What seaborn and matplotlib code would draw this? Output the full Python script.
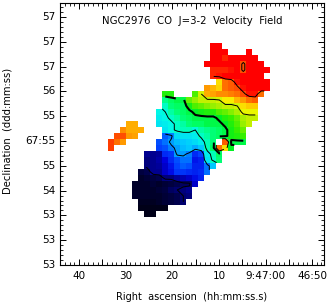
import numpy as np
import pandas as pd
import seaborn as sns
import matplotlib.pyplot as plt
from matplotlib.colors import LinearSegmentedColormap
from matplotlib.ticker import FixedLocator

# velocity map, km/s: first column of each row + values
n = np.nan
row_first = {
    7: 25, 8: 25, 9: 25, 10: 24, 11: 25, 12: 25, 13: 26, 14: 24, 15: 17, 16: 17, 17: 17,
    18: 16, 19: 16, 20: 16, 21: 17, 22: 17, 23: 16, 24: 16, 25: 14, 26: 14, 27: 14,
    28: 13, 29: 13, 30: 12, 31: 12, 32: 12, 33: 13, 34: 13, 35: 14,
}
row_vel = {
    7: [36, 36],
    8: [36, 36, 36, n, n, n, 36],
    9: [36, 36, 34, 36, 36, 36, 36, 36],
    10: [36, 36, 36, 36, 36, 36, 32, 36, 36, 36],
    11: [34, 34, 34, 35, 36, 32, 36, 36, 36, 36],
    12: [34, 35, 36, 36, 36, 36, 36, 36, 36],
    13: [20, 30, 31, 35, 36, 36, 36, 36, 36],
    14: [27, 24, 21, 30, 31, 32, 35, 36, 36, 36, 36],
    15: [8, 8, n, n, n, 10, 16, 25, 26, 28, 28, 29, 30, 32, 35, 35, 30],
    16: [1, 3, 4, 4, 11, 13, 15, 15, 15, 16, 19, 19, 24, 27, 30, 31],
    17: [-2, 2, 3, 3, 7, 10, 11, 12, 13, 14, 15, 15, 16, 20, 22, 22],
    18: [-4, -3, 0, 2, 3, 4, 6, 7, 8, 8, 10, 11, 12, 14, 17, 17, 17],
    19: [-5, -4, -2, 0, 2, 3, 4, 4, 4, 4, 6, 8, 9, 11, 14, 15, 15],
    20: [-6, -5, -4, -2, 0, 2, 3, 3, 4, 4, 4, 6, 8, 10, 13, 15],
    21: [-6, -4, -2, -1, -1, -3, 0, 1, 2, 3, 4, 7, 9, 11],
    22: [-16, -14, -7, -6, -6, -5, -2, 0, 2, 3, 4, 7, 8, 9],
    23: [-17, -15, -12, -10, -9, -8, -7, -5, -1, 2, n, 31, 4, 4, 4],
    24: [-18, -17, -14, -12, -10, -9, -11, -9, -1, 3, 30, 20, 6],
    25: [-31, -31, -30, -20, -19, -12, -12, -14, -20, -18, -5, -1, 3],
    26: [-32, -31, -29, -24, -20, -17, -15, -15, -22, -21, -6, -2, 2],
    27: [-32, -31, -30, -26, -22, -18, -16, -17, -21, -21, -15, -9],
    28: [-36, -35, -31, -31, -26, -23, -19, -19, -20, -21, -20, -15],
    29: [-38, -37, -36, -35, -32, -32, -30, -28, -26, -23, -21],
    30: [-38, -38, -38, -37, -38, -37, -36, -35, -34, -34, -26],
    31: [-38, -38, -38, -38, -37, -36, -34, -33, -32, -31],
    32: [-38, -38, -38, -38, -38, -37, -36, -35, -33, -32],
    33: [-39, -39, -39, -38, -37, -36, -35, -33],
    34: [-40, -40, -40, -40, -40],
    35: [-40, -40],
}
# small orange clump on the left, no contours there
clump_first = {20: 11, 21: 10, 22: 9, 23: 8, 24: 8}
clump_vel = {
    20: [25, 25],
    21: [28, 25, 25, 25],
    22: [32, 32, 27, 26],
    23: [33, 30, 27],
    24: [33],
}

contour_thin = [-33, -13, -3, 16, 33]
contour_thick = [5]

ra_ticks = [40, 35, 30, 25, 20, 15, 10, 5, 0, -5, -10]
ra_labels = ['40', '', '30', '', '20', '', '10', '', '9:47:00', '', '46:50']
dec_labels = ['57', '57', '57', '56', '55', '67:55', '55', '54', '53', '53', '53']

vel_stops = [-40, -36, -31, -24, -18, -13, -9, -4, -1, 3, 6, 9, 12, 15, 18, 23, 28, 32, 34, 36]
vel_colors = ['#000018', '#000040', '#000090', '#0000e0', '#0040ff', '#0090ff', '#00c8ff',
              '#00f8e8', '#00ffb8', '#00ff60', '#00f020', '#30f000', '#80f000', '#c0f000',
              '#f8f800', '#ffc000', '#ff9000', '#ff5000', '#ff2800', '#ff0000']

main = np.full((44, 44), np.nan)
for r, first in row_first.items():
    main[r, first:first + len(row_vel[r])] = row_vel[r]
grid = main.copy()
for r, first in clump_first.items():
    grid[r, first:first + len(clump_vel[r])] = clump_vel[r]
df = pd.DataFrame(grid)

cmap = LinearSegmentedColormap.from_list(
    'vel', [((v + 40) / 76, c) for v, c in zip(vel_stops, vel_colors)])

fig = plt.figure(figsize=(3.27, 3.04), dpi=100)
ax = fig.add_axes([60 / 327, 1 - 265 / 304, 264 / 327, 262 / 304])
sns.heatmap(df, ax=ax, cmap=cmap, vmin=-40, vmax=36, cbar=False, linewidths=0)

xx = np.arange(44) + 0.5
ax.contour(xx, xx, main, levels=contour_thin, colors='k', linewidths=0.7, linestyles='solid')
ax.contour(xx, xx, main, levels=contour_thick, colors='k', linewidths=1.5, linestyles='solid')

ax.set_xlim(-0.05, 43.95)
ax.set_ylim(44, 0.33)

# pixel scale of the sky axes, in map cells
col_per_s = 0.777
row_per_tick = 4.135
ra_pos = [3.12 + (40 - s) * col_per_s for s in ra_ticks]
dec_pos = [2.67 + i * row_per_tick for i in range(len(dec_labels))]

ax.set_xticks(ra_pos, ra_labels, rotation=0)
ax.set_yticks(dec_pos, dec_labels, rotation=0)
ax.xaxis.set_minor_locator(FixedLocator([3.12 + (40 - s) * col_per_s for s in range(44, -15, -1)]))
ax.yaxis.set_minor_locator(FixedLocator([2.67 + i * row_per_tick / 5 for i in range(-3, 52)]))
ax.tick_params(which='major', direction='in', length=4.5, width=0.7, top=True, right=True,
               bottom=True, left=True, labelsize=7.5, pad=3)
ax.tick_params(which='minor', direction='in', length=2.2, width=0.6, top=True, right=True,
               bottom=True, left=True)
ax.tick_params(axis='x', which='major', pad=4)

for s in ax.spines.values():
    s.set_visible(True)
    s.set_linewidth(0.8)

ax.set_xlabel('')
ax.set_ylabel('')
fig.text(192 / 327, 1 - 21 / 304, 'NGC2976  CO  J=3-2  Velocity  Field', ha='center', va='center', fontsize=7.3)
fig.text(192 / 327, 1 - 297 / 304, 'Right  ascension  (hh:mm:ss.s)', ha='center', va='center', fontsize=7)
fig.text(8 / 327, 1 - 131 / 304, 'Declination  (ddd:mm:ss)', rotation=90, ha='center', va='center', fontsize=7.2)

fig.savefig('out.png', dpi=100)
